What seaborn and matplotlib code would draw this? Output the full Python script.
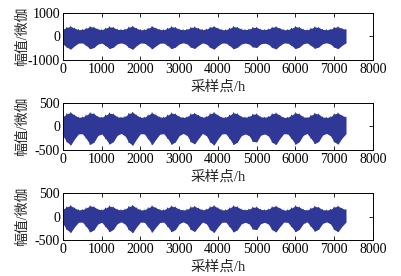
"""Three panels of gravity signal amplitude against sample index."""

import numpy as np
import pandas as pd
import matplotlib
matplotlib.use("Agg")
import matplotlib.pyplot as plt
import seaborn as sns

# envelope of each signal, read every 100 samples (0 .. 7300)
sample_x = list(range(0, 7301, 100))

upper_1 = [310, 385, 425, 350, 290, 295, 345, 420, 390, 315, 285, 350, 410, 385, 305, 290, 310, 395, 430, 345,
           285, 290, 350, 425, 355, 295, 285, 345, 415, 385, 310, 285, 305, 380, 405, 340, 290, 310, 390, 425,
           350, 290, 285, 345, 420, 390, 315, 290, 310, 380, 385, 305, 290, 315, 390, 415, 345, 285, 290, 350,
           420, 385, 305, 280, 340, 405, 380, 300, 285, 305, 385, 410, 340, 300]
lower_1 = [-320, -460, -540, -395, -285, -275, -385, -525, -470, -325, -280, -390, -515, -460, -315, -275, -325, -470, -545, -390,
           -280, -285, -395, -530, -400, -290, -280, -385, -520, -455, -320, -270, -315, -460, -510, -380, -275, -320, -470, -540,
           -395, -285, -280, -390, -525, -465, -325, -280, -320, -450, -470, -320, -285, -330, -475, -530, -385, -280, -285, -390,
           -520, -455, -315, -275, -385, -505, -450, -310, -270, -320, -460, -520, -380, -280]

upper_2 = [210, 270, 295, 240, 195, 200, 240, 290, 270, 210, 195, 240, 285, 265, 205, 195, 210, 275, 300, 240,
           195, 195, 245, 290, 245, 200, 195, 240, 285, 265, 210, 190, 205, 265, 280, 235, 195, 210, 270, 295,
           240, 195, 195, 240, 290, 270, 210, 195, 210, 260, 265, 205, 195, 210, 270, 285, 235, 190, 195, 240,
           290, 265, 205, 190, 235, 280, 260, 200, 190, 205, 265, 285, 235, 200]
lower_2 = [-200, -330, -395, -265, -160, -155, -255, -385, -335, -195, -160, -260, -375, -325, -190, -150, -200, -340, -400, -265,
           -155, -160, -270, -390, -270, -165, -155, -255, -380, -330, -195, -150, -190, -330, -370, -255, -150, -195, -335, -395,
           -265, -160, -155, -260, -385, -335, -200, -160, -195, -320, -330, -190, -160, -200, -340, -385, -255, -155, -160, -260,
           -380, -325, -190, -150, -255, -365, -320, -185, -150, -195, -330, -375, -250, -160]

upper_3 = [160, 210, 235, 185, 145, 150, 185, 230, 210, 160, 145, 185, 225, 205, 155, 145, 160, 215, 240, 185,
           145, 145, 190, 230, 190, 150, 145, 185, 225, 205, 160, 140, 155, 205, 220, 180, 145, 160, 210, 235,
           185, 145, 145, 185, 230, 210, 160, 145, 160, 200, 205, 155, 145, 160, 210, 225, 180, 140, 145, 185,
           230, 205, 155, 140, 180, 220, 200, 150, 140, 155, 205, 225, 180, 150]
lower_3 = [-150, -275, -335, -215, -120, -115, -210, -325, -280, -155, -120, -215, -320, -270, -150, -110, -155, -280, -340, -215,
           -115, -120, -220, -330, -220, -125, -115, -210, -320, -275, -150, -110, -150, -275, -315, -210, -115, -150, -280, -335,
           -215, -120, -115, -215, -325, -280, -155, -120, -150, -265, -275, -150, -120, -155, -280, -325, -210, -115, -120, -215,
           -320, -270, -150, -110, -210, -310, -265, -145, -110, -150, -275, -320, -205, -120]

y_limits = [1000, 500, 500]
x_ticks = list(range(0, 8001, 1000))

LINE_COLOR = "#2f3896"

sns.set_style("ticks")
plt.rcParams["font.family"] = ["Liberation Serif", "Noto Sans CJK SC"]
plt.rcParams["axes.unicode_minus"] = False


def draw_panel(ax, upper, lower, lim):
    """Dense oscillation drawn as a zigzag between the read envelopes."""
    df = pd.DataFrame({
        "x": np.repeat(sample_x, 2),
        "y": np.ravel(np.column_stack([upper, lower])),
    })
    ax.fill_between(sample_x, lower, upper, color=LINE_COLOR, lw=0)
    sns.lineplot(data=df, x="x", y="y", sort=False, estimator=None,
                 color=LINE_COLOR, lw=0.7, ax=ax)

    ax.set_xlim(0, 8000)
    ax.set_ylim(-lim, lim)
    ax.set_xticks(x_ticks)
    ax.set_yticks([-lim, 0, lim])
    ax.tick_params(direction="in", top=True, right=True, length=3, width=0.6,
                   labelsize=10, pad=2, colors="black")
    for side in ax.spines.values():
        side.set_linewidth(0.7)
        side.set_color("black")
    ax.set_xlabel("采样点/h", fontsize=10.5, labelpad=3.5)
    ax.set_ylabel("幅值/微伽", fontsize=10)
    ax.yaxis.set_label_coords(-0.11, 0.5)


fig = plt.figure(figsize=(4.01, 2.76), dpi=100)
panels = [(upper_1, lower_1), (upper_2, lower_2), (upper_3, lower_3)]
bottoms = [0.783, 0.457, 0.130]
for (up, lo), bottom, lim in zip(panels, bottoms, y_limits):
    ax = fig.add_axes([0.157, bottom, 0.773, 0.170])
    draw_panel(ax, up, lo, lim)

fig.savefig("out.png", dpi=100)
plt.close(fig)
